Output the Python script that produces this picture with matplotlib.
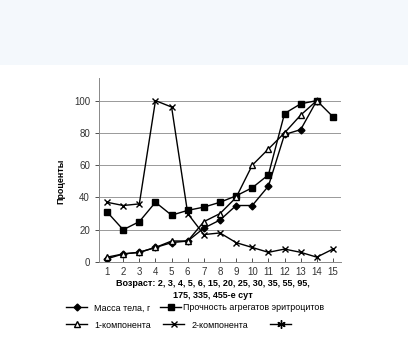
import numpy as np
import matplotlib.pyplot as plt
from matplotlib.patches import Rectangle

plt.rcParams['font.family'] = ['Liberation Sans', 'DejaVu Sans']

x = np.arange(1, 16)
massa = [2, 5, 6, 9, 12, 13, 21, 26, 35, 35, 47, 79, 82, 100, np.nan]
prochnost = [31, 20, 25, 37, 29, 32, 34, 37, 41, 46, 54, 92, 98, 100, 90]
komp1 = [3, 5, 6, 9, 13, 13, 25, 30, 40, 60, 70, 80, 91, 100, np.nan]
komp2 = [37, 35, 36, 100, 96, 30, 17, 18, 12, 9, 6, 8, 6, 3, 8]

W, H = 408, 343
fig = plt.figure(figsize=(W / 100, H / 100), dpi=100)
fig.patches.append(Rectangle((0, 1 - 65 / H), 1, 65 / H, transform=fig.transFigure,
                             facecolor='#f4f8fc', edgecolor='none', zorder=-1))

ax = fig.add_axes([99 / W, 1 - 262 / H, (341 - 99) / W, (262 - 78) / H])

lw = 1.0
h1, = ax.plot(x, massa, color='black', lw=lw, marker='D', ms=3.5, label='Масса тела, г')
h2, = ax.plot(x, prochnost, color='black', lw=lw, marker='s', ms=5, label='Прочность агрегатов эритроцитов')
h3, = ax.plot(x, komp1, color='black', lw=lw, marker='^', ms=5, mfc='white', label='1-компонента')
h4, = ax.plot(x, komp2, color='black', lw=lw, marker='x', ms=5, label='2-компонента')
h5, = ax.plot([], [], color='black', lw=lw, marker=(6, 2, 0), ms=6, label=' ')

ax.set_xlim(0.5, 15.5)
ax.set_ylim(0, 114)
ax.set_yticks(range(0, 101, 20))
ax.set_xticks(x)
ax.tick_params(labelsize=7, colors='#333333', length=3, width=0.6)
ax.tick_params(axis='x', direction='in', length=3)
ax.grid(axis='y', color='#999999', lw=0.7)
ax.set_axisbelow(True)
for s in ['top', 'right']:
    ax.spines[s].set_visible(False)
for s in ['left', 'bottom']:
    ax.spines[s].set_color('#888888')
    ax.spines[s].set_linewidth(0.7)

ax.set_xlabel('Возраст: 2, 3, 4, 5, 6, 15, 20, 25, 30, 35, 55, 95,\n175, 335, 455-е сут',
              fontsize=6.5, fontweight='bold', linespacing=1.45, va='top')
ax.xaxis.set_label_coords((213 - 99) / 242, -17 / 184)
ax.set_ylabel('Проценты', fontsize=6.4, fontweight='bold')
ax.yaxis.set_label_coords(-34 / 242, 50 / 114)

# legend entries placed one by one, as in the original layout
entries = [(h1, 66, 308, 0.8), (h2, 160, 308, 0.15),
           (h3, 66, 325, 0.8), (h4, 163, 325, 0.8), (h5, 270, 325, 0.8)]
for h, px, py, pad in entries:
    fig.legend(handles=[h], frameon=False, fontsize=6.4, handlelength=2.4,
               handletextpad=pad, borderaxespad=0, borderpad=0, loc='center left',
               bbox_to_anchor=(px / W, 1 - py / H))

fig.savefig('out.png', dpi=100)
